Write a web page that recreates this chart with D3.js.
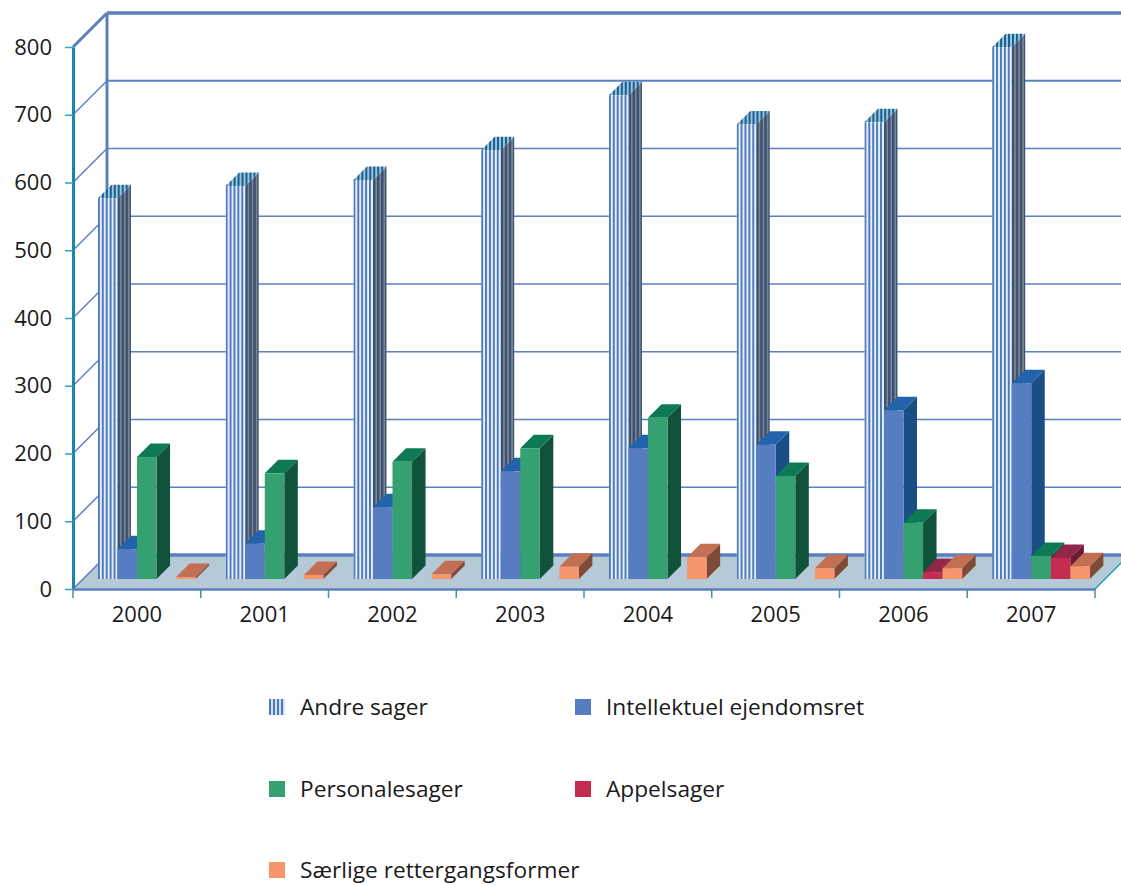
<!DOCTYPE html>
<html>
<head>
<meta charset="utf-8">
<script src="https://cdn.jsdelivr.net/npm/d3@7"></script>
<style>
  body { margin: 0; background: #fff; }
  svg { display: block; }
  text { font-family: "Open Sans", "Noto Sans", sans-serif; fill: #1a1a1a; }
</style>
</head>
<body>
<svg width="1121" height="885"></svg>
<script>
var years = ["2000", "2001", "2002", "2003", "2004", "2005", "2006", "2007"];
var seriesNames = ["Andre sager", "Intellektuel ejendomsret", "Personalesager", "Appelsager", "Særlige rettergangsformer"];
var yTicks = [0, 100, 200, 300, 400, 500, 600, 700, 800];

var andre = [562, 580, 589, 633, 714, 671, 674, 785];
var intellektuel = [44, 52, 106, 159, 193, 198, 249, 289];
var personale = [180, 156, 173, 193, 238, 152, 83, 34];
var appel = [0, 0, 0, 0, 0, 0, 10, 31];
var saerlige = [3, 6, 7, 18, 32, 16, 16, 19];

var allSeries = [andre, intellektuel, personale, appel, saerlige];

var frontColours = ["url(#stripeFront)", "#567dc1", "#35a070", "#c52d50", "#f7956c"];
var sideColours = ["url(#stripeSide)", "#1a4f85", "#10523a", "#6e1a35", "#7f4a38"];
var topColours = ["url(#stripeTop)", "#2263ab", "#0e7a55", "#93274a", "#c26f54"];
var legendFills = ["url(#stripeLegend)", "#567dc1", "#35a070", "#c52d50", "#f7956c"];

var svg = d3.select("svg");

// SET UP CHART
var left = 73, right = 1095, bottom = 589, top_ = 47;
var wallDepth = 34;     // offset of the back wall
var barDepth = 13.5;    // offset of a bar's top and side
var barInset = 10;      // bars stand this far in from the front edge

var x = d3.scaleBand().domain(years).range([left, right]);
var y = d3.scaleLinear().domain([0, 800]).range([bottom, top_]);
var xSeries = d3.scaleBand().domain(d3.range(5))
  .range([x.bandwidth() * 0.195, x.bandwidth() * 0.96]);

// STRIPES
// pattern size is a fraction of the shape, so every bar starts on a blue stripe
var defs = svg.append("defs");
function stripes(id, frac, back, colour, w) {
  var p = defs.append("pattern")
    .attr("id", id)
    .attr("patternUnits", "objectBoundingBox")
    .attr("width", frac)
    .attr("height", 1);
  p.append("rect").attr("width", 20).attr("height", 900).attr("fill", back);
  p.append("rect").attr("width", w).attr("height", 900).attr("fill", colour);
}
stripes("stripeFront", 0.2, "#e6eef8", "#4a78bd", 1.9);
stripes("stripeSide", 0.3, "#7c8797", "#3d5272", 2.5);
stripes("stripeTop", 0.12, "#9fc4dc", "#17608f", 2);
stripes("stripeLegend", 0.25, "#d5e2f1", "#4a78bd", 2);

// WALLS AND FLOOR
var wallColour = "#5b80c0";

svg.append("polygon")
  .attr("points", [[left, bottom], [right, bottom], [right + wallDepth, bottom - wallDepth], [left + wallDepth, bottom - wallDepth]].join(" "))
  .attr("fill", "#b5c9d6");

var grid = svg.append("g");
yTicks.forEach(function(t) {
  var w = (t === 800 || t === 0) ? 3.5 : (t === 700 ? 2 : 1.5);
  grid.append("line")
    .attr("x1", left + wallDepth).attr("x2", 1121)
    .attr("y1", y(t) - wallDepth).attr("y2", y(t) - wallDepth)
    .attr("stroke", wallColour).attr("stroke-width", w);
  grid.append("line")
    .attr("x1", left).attr("x2", left + wallDepth)
    .attr("y1", y(t)).attr("y2", y(t) - wallDepth)
    .attr("stroke", wallColour).attr("stroke-width", t === 800 ? 3 : 1.5);
});
grid.append("line")
  .attr("x1", left + wallDepth).attr("x2", left + wallDepth)
  .attr("y1", y(800) - wallDepth).attr("y2", bottom - wallDepth)
  .attr("stroke", wallColour).attr("stroke-width", 3);
grid.append("line")
  .attr("x1", right).attr("x2", right + wallDepth)
  .attr("y1", bottom).attr("y2", bottom - wallDepth)
  .attr("stroke", "#1f9cb8").attr("stroke-width", 1.5);

// BARS
function poly(points) {
  var p = d3.path();
  points.forEach(function(q, i) {
    if (i === 0) p.moveTo(q[0], q[1]); else p.lineTo(q[0], q[1]);
  });
  p.closePath();
  return p.toString();
}

var base = bottom - barInset;
var hScale = function(v) { return bottom - y(v); };

var bars = [];
years.forEach(function(yr, i) {
  allSeries.forEach(function(s, k) {
    if (s[i] > 0) bars.push({ year: yr, k: k, value: s[i] });
  });
});

var barG = svg.append("g").selectAll("g")
  .data(bars)
  .enter().append("g");

barG.each(function(d) {
  var x0 = x(d.year) + xSeries(d.k);
  var x1 = x0 + xSeries.bandwidth();
  var t = base - hScale(d.value);
  var g = d3.select(this);
  g.append("path")
    .attr("d", poly([[x1, base], [x1 + barDepth, base - barDepth], [x1 + barDepth, t - barDepth], [x1, t]]))
    .attr("fill", sideColours[d.k]);
  g.append("path")
    .attr("d", poly([[x0, t], [x1, t], [x1 + barDepth, t - barDepth], [x0 + barDepth, t - barDepth]]))
    .attr("fill", topColours[d.k]);
  g.append("rect")
    .attr("x", x0).attr("y", t)
    .attr("width", x1 - x0).attr("height", base - t)
    .attr("fill", frontColours[d.k]);
});

// AXES
var yAxis = svg.append("g")
  .attr("transform", "translate(" + left + ",0)")
  .call(d3.axisLeft(y).tickValues(yTicks).tickSize(8).tickPadding(13).tickSizeOuter(0));
yAxis.select(".domain").attr("stroke", "#1a85ad").attr("stroke-width", 3);
yAxis.selectAll(".tick line").attr("stroke", "#2fa5c0").attr("stroke-width", 1.5);
yAxis.selectAll("text").style("font-size", "22px");

var xAxis = svg.append("g")
  .attr("transform", "translate(0," + bottom + ")")
  .call(d3.axisBottom(x).tickSize(0).tickPadding(17));
xAxis.select(".domain").attr("stroke", wallColour).attr("stroke-width", 2.5);
xAxis.selectAll("text").style("font-size", "22px");

svg.append("g").selectAll("line")
  .data(d3.range(years.length + 1))
  .enter().append("line")
  .attr("x1", function(d) { return left + d * x.step(); })
  .attr("x2", function(d) { return left + d * x.step(); })
  .attr("y1", bottom).attr("y2", bottom + 9)
  .attr("stroke", wallColour).attr("stroke-width", 1.5);

// LEGEND
var legendCols = [269, 575];
var legendRows = [707, 789, 870];
var legend = svg.append("g").selectAll("g")
  .data(seriesNames)
  .enter().append("g")
  .attr("transform", function(d, i) {
    return "translate(" + legendCols[i % 2] + "," + legendRows[Math.floor(i / 2)] + ")";
  });
legend.append("rect")
  .attr("y", -8).attr("width", 16).attr("height", 16)
  .attr("fill", function(d, i) { return legendFills[i]; });
legend.append("text")
  .attr("x", 31).attr("dy", "0.35em")
  .style("font-size", "22.7px")
  .text(function(d) { return d; });
</script>
</body>
</html>
